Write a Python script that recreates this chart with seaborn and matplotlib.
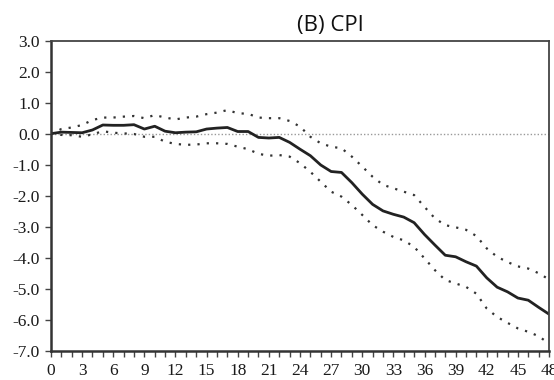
import numpy as np
import pandas as pd
import matplotlib
matplotlib.use("Agg")
import matplotlib.pyplot as plt
import seaborn as sns

# impulse response of CPI, horizon 0..48
horizon = list(range(49))
response = [0.0, 0.05, 0.04, 0.03, 0.12, 0.28, 0.27, 0.27, 0.29, 0.15,
            0.24, 0.08, 0.03, 0.05, 0.06, 0.15, 0.18, 0.2, 0.07, 0.07,
            -0.12, -0.14, -0.12, -0.28, -0.5, -0.71, -1.01, -1.22, -1.25, -1.58,
            -1.95, -2.28, -2.49, -2.6, -2.69, -2.87, -3.25, -3.59, -3.92, -3.97,
            -4.13, -4.27, -4.65, -4.95, -5.1, -5.3, -5.37, -5.6, -5.82]
upper = [0.0, 0.15, 0.2, 0.28, 0.44, 0.52, 0.52, 0.55, 0.57, 0.5,
         0.6, 0.52, 0.46, 0.52, 0.55, 0.63, 0.68, 0.76, 0.66, 0.64,
         0.52, 0.5, 0.5, 0.41, 0.23, -0.1, -0.31, -0.42, -0.47, -0.74,
         -1.06, -1.39, -1.65, -1.76, -1.87, -1.98, -2.36, -2.73, -2.95, -3.02,
         -3.1, -3.3, -3.7, -3.97, -4.14, -4.28, -4.35, -4.5, -4.7]
lower = [0.0, -0.04, -0.05, -0.1, -0.02, 0.08, 0.03, 0.01, -0.01, -0.1,
         -0.1, -0.26, -0.33, -0.36, -0.35, -0.31, -0.31, -0.33, -0.42, -0.5,
         -0.65, -0.71, -0.69, -0.74, -0.95, -1.23, -1.55, -1.87, -2.03, -2.3,
         -2.62, -2.95, -3.16, -3.33, -3.44, -3.65, -4.02, -4.4, -4.72, -4.83,
         -4.94, -5.16, -5.64, -5.91, -6.1, -6.28, -6.39, -6.53, -6.77]
y_ticks = [3, 2, 1, 0, -1, -2, -3, -4, -5, -6, -7]

df = pd.DataFrame({"h": horizon, "resp": response, "up": upper, "lo": lower})

sns.set_style("ticks")
plt.rcParams["font.family"] = ["Liberation Serif", "DejaVu Serif"]

fig = plt.figure(figsize=(5.54, 3.80), dpi=100)
ax = fig.add_axes([0.092, 0.077, 0.899, 0.816])

ax.axhline(0, color="#999999", lw=1.0, ls=(0, (1, 1.5)), zorder=1)
sns.lineplot(data=df, x="h", y="up", ax=ax, color="#333333", lw=1.6,
             ls=(0, (1, 3.2)))
sns.lineplot(data=df, x="h", y="lo", ax=ax, color="#333333", lw=1.6,
             ls=(0, (1, 3.2)))
sns.lineplot(data=df, x="h", y="resp", ax=ax, color="#222222", lw=2.0)

ax.set_xlim(0, 48)
ax.set_ylim(-7, 3)
ax.set_yticks(y_ticks)
ax.set_yticklabels([f"{v:.1f}" for v in y_ticks], fontsize=12.5, color="#1a1a1a")
ax.set_xticks(range(0, 49, 3))
ax.set_xticks(range(0, 49), minor=True)
ax.set_xticklabels([str(v) for v in range(0, 49, 3)], fontsize=12.5, color="#1a1a1a")
ax.tick_params(axis="both", which="both", direction="out", length=4,
               width=1, color="#444444")
ax.tick_params(axis="x", which="major", pad=5)
ax.tick_params(axis="y", which="major", pad=4)
ax.set_xlabel("")
ax.set_ylabel("")

for side in ["left", "bottom"]:
    ax.spines[side].set_linewidth(1.8)
    ax.spines[side].set_color("#333333")
for side in ["top", "right"]:
    ax.spines[side].set_visible(True)
    ax.spines[side].set_linewidth(1.3)
    ax.spines[side].set_color("#444444")

fig.text(0.596, 0.918, "(B) CPI", ha="center", va="baseline",
         fontsize=16, family=["Open Sans", "DejaVu Sans"], color="#111111")

fig.savefig("out.png", dpi=100)
